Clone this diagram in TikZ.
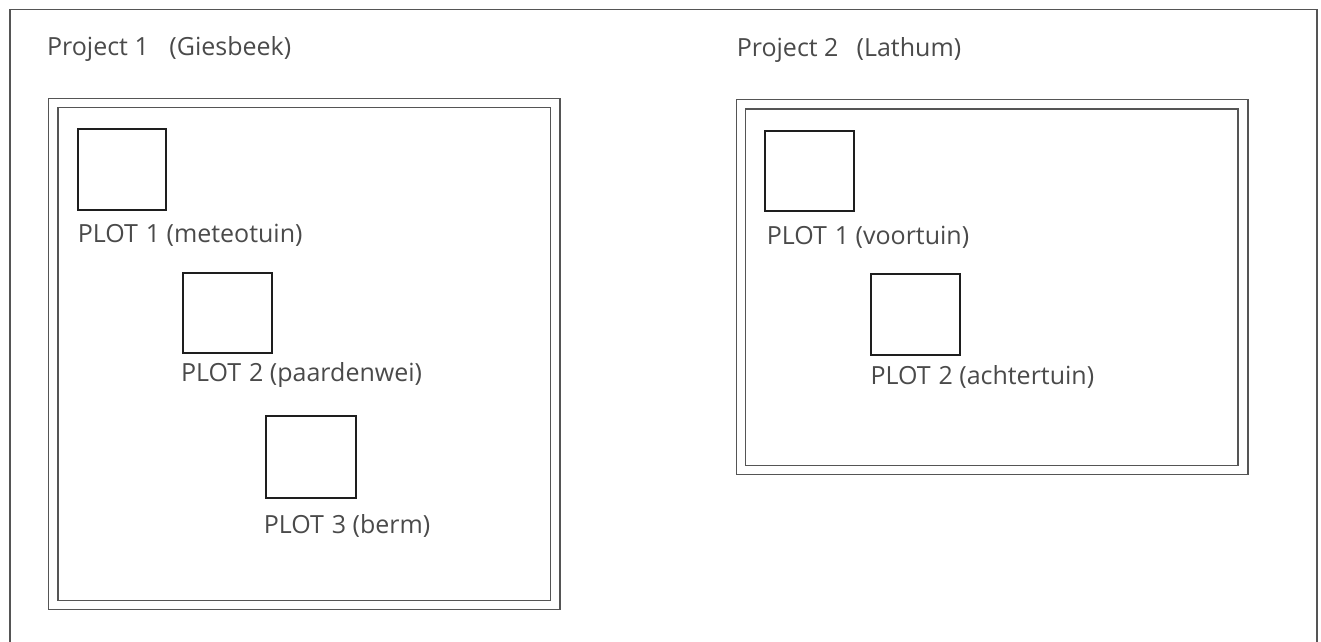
\documentclass[tikz,border=0pt]{standalone}
\usepackage{fontspec}
\setmainfont{Open Sans}
\definecolor{txt}{HTML}{4A4A4A}
\definecolor{frame}{HTML}{555555}
\definecolor{plotc}{HTML}{1E1E1E}
\begin{document}
\begin{tikzpicture}[x=1pt,y=-1pt,
  lbl/.style={anchor=base west,inner sep=0pt,text=txt,font=\fontsize{25}{30}\selectfont},
  framebox/.style={draw=frame,line width=1.3pt},
  plotbox/.style={draw=plotc,line width=2.2pt}]
\useasboundingbox (0,0) rectangle (1321,641);
% outer border (bottom edge lies below the picture)
\draw[framebox] (10,660) -- (10,9.7) -- (1317,9.7) -- (1317,660);
% Project 1
\node[lbl] (t1) at (46.9,55) {Project 1\hspace{20.6pt}(Giesbeek)};
\draw[framebox] (48.5,98.7) rectangle (560,609.5);
\draw[framebox] (58,107.7) rectangle (550.7,600.3);
\draw[plotbox] (77.7,129) rectangle (166,210);
\node[lbl] (p11) at (77.6,242.7) {PLOT\hspace{8pt}1 (meteotuin)};
\draw[plotbox] (183,272.7) rectangle (272.3,353.3);
\node[lbl] (p12) at (180.9,381.7) {PLOT\hspace{8pt}2 (paardenwei)};
\draw[plotbox] (266.3,415.7) rectangle (355.7,497.7);
\node[lbl] (p13) at (263.6,533.3) {PLOT\hspace{8pt}3 (berm)};
% Project 2
\node[lbl] (t2) at (736.6,56) {Project 2\hspace{18.2pt}(Lathum)};
\draw[framebox] (736.3,99.5) rectangle (1248,474.7);
\draw[framebox] (745.3,109) rectangle (1238,465.7);
\draw[plotbox] (765.3,130.7) rectangle (854.3,211);
\node[lbl] (p21) at (766.6,244) {PLOT\hspace{8pt}1 (voortuin)};
\draw[plotbox] (871.3,273.7) rectangle (960.3,354.7);
\node[lbl] (p22) at (870.3,384.3) {PLOT\hspace{8pt}2 (achtertuin)};
\end{tikzpicture}
\end{document}
